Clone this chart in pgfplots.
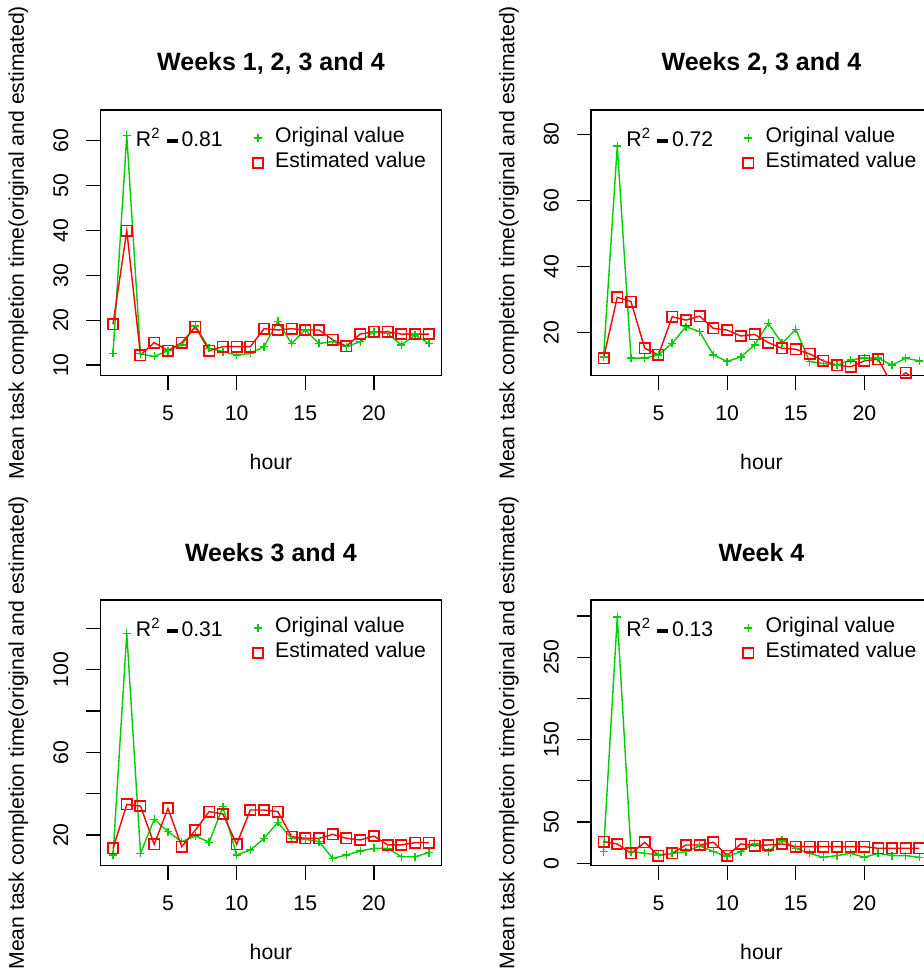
\documentclass[border=0pt]{standalone}
\usepackage{fontspec}
\setmainfont{Liberation Sans}
\usepackage{pgfplots}
\usepackage{pgfplotstable}
\pgfplotsset{compat=1.18}
\definecolor{rgreen}{RGB}{0,205,0}
\definecolor{rred}{RGB}{255,0,0}

% hour  original  estimated
\pgfplotstableread{
h o e
1 12.6 19.1
2 61.2 39.9
3 12.5 12.2
4 11.9 15.0
5 13.2 13.2
6 14.5 15.0
7 18.7 18.5
8 13.7 13.2
9 13.0 14.1
10 12.2 14.1
11 12.6 14.1
12 14.1 18.1
13 19.7 17.8
14 14.8 18.1
15 17.8 17.8
16 14.8 17.8
17 15.2 15.6
18 14.1 14.2
19 15.2 16.9
20 17.4 17.4
21 17.0 17.4
22 14.5 16.9
23 16.7 16.9
24 14.8 16.9
}\tabA
\pgfplotstableread{
h o e
1 12.7 12.3
2 76.4 30.7
3 12.3 29.4
4 12.3 15.3
5 13.3 13.3
6 16.8 24.8
7 21.8 23.8
8 20.3 25.0
9 13.3 21.3
10 11.3 20.8
11 12.7 19.0
12 16.3 19.5
13 22.8 17.0
14 16.8 15.3
15 21.0 15.0
16 11.3 13.6
17 10.7 11.5
18 10.2 10.2
19 11.8 9.7
20 12.3 11.5
21 12.3 12.0
22 10.2 4.4
23 12.3 7.9
24 11.5 5.0
}\tabB
\pgfplotstableread{
h o e
1 10.3 13.5
2 117.6 34.8
3 11.1 34.0
4 27.6 15.5
5 21.6 32.9
6 16.8 14.4
7 19.5 22.4
8 16.5 31.3
9 33.7 30.2
10 10.3 15.5
11 12.7 32.1
12 18.4 32.1
13 26.1 31.3
14 18.4 19.2
15 17.9 18.4
16 16.8 18.4
17 8.7 20.3
18 10.3 18.4
19 12.3 17.6
20 13.5 19.5
21 13.5 15.2
22 9.5 15.2
23 9.5 16.3
24 11.5 16.3
}\tabC
\pgfplotstableread{
h o e
1 14.2 26.3
2 299.0 23.5
3 14.2 12.1
4 12.1 25.5
5 10.1 9.3
6 12.1 12.1
7 14.2 22.2
8 21.0 22.2
9 14.2 25.5
10 8.1 9.3
11 14.2 23.5
12 24.3 21.4
13 14.2 22.2
14 28.3 23.5
15 18.2 20.2
16 12.1 20.2
17 7.3 20.2
18 9.3 20.2
19 12.1 20.2
20 7.3 20.2
21 12.1 18.2
22 9.3 18.2
23 9.3 18.2
24 7.3 18.2
}\tabD

\newcommand{\basefont}{\fontsize{10.6}{12}\selectfont}
\newcommand{\rsq}[1]{R\textsuperscript{2}\hspace{3.2pt}\rule[1.7pt]{5.5pt}{2pt}\hspace{1.8pt}#1}

\pgfplotsset{
  rpanel/.style={
    scale only axis,
    width=170.55pt, height=132.75pt,
    xmin=0.08, xmax=24.92,
    xtick={5,10,15,20},
    tick align=outside,
    tick pos=left,
    major tick length=7pt,
    tick style={black, line width=0.6pt},
    axis line style={black, line width=0.6pt},
    /pgf/number format/assume math mode=true,
    scaled y ticks=false,
    tick label style={font=\basefont},
    xticklabel style={anchor=center, yshift=-11.8pt},
    yticklabel style={rotate=90, anchor=center, yshift=12.8pt},
    xlabel={hour},
    ylabel={Mean task completion time(original and estimated)},
    every axis x label/.style={at={(axis description cs:0.5,0)}, anchor=center, yshift=-43.35pt, font=\basefont},
    every axis y label/.style={at={(axis description cs:0,0.5)}, rotate=90, anchor=center, yshift=41pt, font=\basefont},
    title style={at={(axis description cs:0.5,1)}, anchor=center, yshift=17.5pt, font=\fontsize{12.5}{14}\selectfont\bfseries},
    legend image code/.code={\draw[#1] plot coordinates {(0pt,0pt)};},
    legend style={draw=none, fill=none, at={(axis description cs:0.428,0.949)}, anchor=north west,
      font=\basefont, row sep=2.5pt, column sep=6pt,
      nodes={inner sep=0pt, text height=7.5pt, text depth=2.5pt}},
    legend cell align=left,
  },
  orig/.style={rgreen, line width=0.7pt, mark=+, mark size=2pt, mark options={solid, line width=0.7pt}},
  est/.style={rred, line width=0.7pt, mark=square, mark size=2.6pt, mark options={solid, line width=0.8pt}},
}

\newcommand{\panelbody}[2]{%
  \addlegendimage{only marks, rgreen, mark=+, mark size=2pt, line width=0.7pt}
  \addlegendentry{Original value}
  \addlegendimage{only marks, rred, mark=square, mark size=2.6pt, line width=0.8pt}
  \addlegendentry{Estimated value}
  \addplot[orig, forget plot] table[x=h, y=o] {#1};
  \addplot[est, forget plot] table[x=h, y=e] {#1};
  \node[anchor=base west, font=\basefont] at (axis description cs:0.0835,0.862) {\rsq{#2}};
}

\begin{document}
\begin{tikzpicture}
\useasboundingbox (0,0) rectangle (462pt,-484.5pt);
\clip (0,0) rectangle (462pt,-484.5pt);

\begin{axis}[rpanel, at={(50.2pt,-187.75pt)}, anchor=south west,
  title={Weeks 1, 2, 3 and 4},
  ymin=7.66, ymax=66.84, ytick={10,20,30,40,50,60}]
  \panelbody{\tabA}{0.81}
\end{axis}

\begin{axis}[rpanel, at={(295.45pt,-187.75pt)}, anchor=south west,
  title={Weeks 2, 3 and 4},
  ymin=7.07, ymax=87.28, ytick={20,40,60,80}]
  \panelbody{\tabB}{0.72}
\end{axis}

\begin{axis}[rpanel, at={(50.2pt,-432.75pt)}, anchor=south west,
  title={Weeks 3 and 4},
  ymin=5.24, ymax=133.7, ytick={20,40,60,80,100,120}, yticklabels={20,,60,,100,}]
  \panelbody{\tabC}{0.31}
\end{axis}

\begin{axis}[rpanel, at={(295.45pt,-432.75pt)}, anchor=south west,
  title={Week 4},
  ymin=-2.7, ymax=319.5, ytick={0,50,100,150,200,250,300}, yticklabels={0,50,,150,,250,}]
  \panelbody{\tabD}{0.13}
\end{axis}
\end{tikzpicture}
\end{document}
